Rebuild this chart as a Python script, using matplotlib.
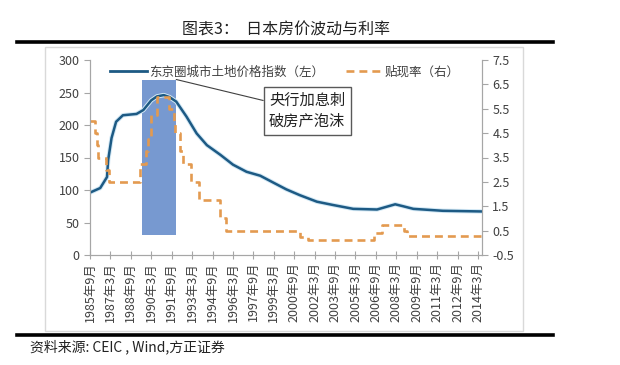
import matplotlib
matplotlib.use("Agg")
import matplotlib.pyplot as plt
import matplotlib.patheffects as pe
from matplotlib.patches import Rectangle
from matplotlib.lines import Line2D

plt.rcParams['font.family'] = ['Noto Sans CJK SC', 'DejaVu Sans']

# Tokyo land price index (left axis)
price_dates = ['1985-09', '1986-06', '1986-12', '1987-01', '1987-04', '1987-08',
               '1988-02', '1989-02', '1989-08', '1990-03', '1990-08', '1991-02',
               '1991-07', '1992-01', '1992-10', '1993-07', '1994-04', '1995-04',
               '1996-03', '1997-03', '1998-03', '1999-03', '2000-02', '2001-02',
               '2002-05', '2003-07', '2005-01', '2006-10', '2007-06', '2008-02',
               '2008-09', '2009-06', '2011-08', '2014-06']
price_values = [96, 103, 120, 146, 180, 205,
                215, 217, 223, 238, 244, 246,
                243, 236, 213, 187, 169, 154,
                139, 128, 122, 111, 101, 92,
                82, 77, 71, 70, 74, 78,
                75, 71, 68, 67]

# discount rate changes (right axis)
rate_dates = ['1985-09', '1986-01', '1986-03', '1986-04', '1986-11', '1987-02',
              '1989-05', '1989-10', '1989-12', '1990-03', '1990-08', '1991-07',
              '1991-11', '1991-12', '1992-04', '1992-07', '1993-02', '1993-09',
              '1995-04', '1995-09', '2001-02', '2001-09', '2006-07', '2007-02',
              '2008-10', '2008-12', '2014-06']
rate_values = [5.0, 4.5, 4.0, 3.5, 3.0, 2.5,
               3.25, 3.75, 4.25, 5.25, 6.0, 5.5,
               5.0, 4.5, 3.75, 3.25, 2.5, 1.75,
               1.0, 0.5, 0.25, 0.1, 0.4, 0.75,
               0.5, 0.3, 0.3]

# highlighted period (rate hikes)
hike_start, hike_end = '1989-07', '1992-01'
hike_low, hike_high = 31, 270

tick_dates = ['1985-09', '1987-03', '1988-09', '1990-03', '1991-09', '1993-03',
              '1994-09', '1996-03', '1997-09', '1999-03', '2000-09', '2002-03',
              '2003-09', '2005-03', '2006-09', '2008-03', '2009-09', '2011-03',
              '2012-09', '2014-03']
tick_labels = ['1985年9月', '1987年3月', '1988年9月', '1990年3月', '1991年9月',
               '1993年3月', '1994年9月', '1996年3月', '1997年9月', '1999年3月',
               '2000年9月', '2002年3月', '2003年9月', '2005年3月', '2006年9月',
               '2008年3月', '2009年9月', '2011年3月', '2012年9月', '2014年3月']


def month_index(s):
    y, m = s.split('-')
    return (int(y) - 1985) * 12 + int(m) - 9


W, H = 620, 365
fig = plt.figure(figsize=(W / 100, H / 100), dpi=100)

# chart frame and the two heavy rules
fig.add_artist(Rectangle((45 / W, 1 - 331 / H), (523 - 45) / W, (331 - 47) / H,
                         transform=fig.transFigure, fill=False, edgecolor='#d9d9d9', lw=1))
for yy in (42, 335):
    fig.add_artist(Line2D([17 / W, 553 / W], [1 - yy / H, 1 - yy / H],
                          transform=fig.transFigure, color='black', lw=2.6))

fig.text(286 / W, 1 - 30 / H, '图表3：  日本房价波动与利率', ha='center', va='center',
         fontsize=11.5, color='#222222')
fig.text(30 / W, 1 - 347 / H, '资料来源: CEIC , Wind,方正证券', ha='left', va='center',
         fontsize=10, style='italic', color='#222222')

ax = fig.add_axes([90 / W, 1 - 255 / H, (482 - 90) / W, (255 - 60) / H])
ax2 = ax.twinx()

px = [month_index(d) for d in price_dates]
rx = [month_index(d) for d in rate_dates]

x0, x1 = month_index(hike_start), month_index(hike_end)
ax.add_patch(Rectangle((x0, hike_low), x1 - x0, hike_high - hike_low,
                       facecolor='#7799d0', edgecolor='none', zorder=1))

l1, = ax.plot(px, price_values, color='#1d5a84', lw=1.8, zorder=3,
              label='东京圈城市土地价格指数（左）',
              path_effects=[pe.Stroke(linewidth=3.2, foreground='#d2e8f5'), pe.Normal()])
l2, = ax2.plot(rx, rate_values, color='#e39a50', lw=1.9, drawstyle='steps-post',
               dashes=(3, 1.9), label='贴现率（右）')

ax.set_xlim(0, 345.5)
ax.set_ylim(0, 300)
ax2.set_ylim(-0.5, 7.5)
ax.set_yticks(range(0, 301, 50))
ax2.set_yticks([-0.5 + i for i in range(9)])
ax2.set_yticklabels(['%.1f' % (-0.5 + i) for i in range(9)])

ax.set_xticks([month_index(d) for d in tick_dates])
ax.set_xticklabels(tick_labels, rotation=90, fontsize=9, color='#404040')

for a in (ax, ax2):
    a.spines['top'].set_visible(False)
    for s in ('left', 'right', 'bottom'):
        a.spines[s].set_color('#a6a6a6')
ax.tick_params(axis='y', colors='#404040', labelsize=9, length=4, color='#a6a6a6')
ax2.tick_params(axis='y', colors='#404040', labelsize=9, length=4, color='#a6a6a6')
ax.tick_params(axis='x', direction='inout', length=6, color='#a6a6a6', pad=2)
for t in ax.get_yticklabels() + ax2.get_yticklabels():
    t.set_color('#404040')

leg_line = Line2D([], [], color='#1d5a84', lw=2)
ax2.legend([leg_line, l2], [l1.get_label(), l2.get_label()], ncol=2, frameon=False,
           loc='center left', bbox_to_anchor=(0.051, 0.938), borderaxespad=0,
           borderpad=0, handlelength=3.0, handletextpad=0.1, columnspacing=1.8,
           prop={'size': 9}, labelcolor='#404040')

ax2.annotate('央行加息刺\n破房产泡沫', xy=(x1, hike_high), xycoords=ax.transData,
             xytext=(0.554, 0.738), textcoords='axes fraction', ha='center', va='center',
             fontsize=11, color='#222222', linespacing=1.3,
             bbox=dict(boxstyle='square,pad=0.35', facecolor='white', edgecolor='#595959', lw=1),
             arrowprops=dict(arrowstyle='-', color='#404040', lw=0.8, shrinkA=0, shrinkB=0))

fig.savefig('out.png', dpi=100)
